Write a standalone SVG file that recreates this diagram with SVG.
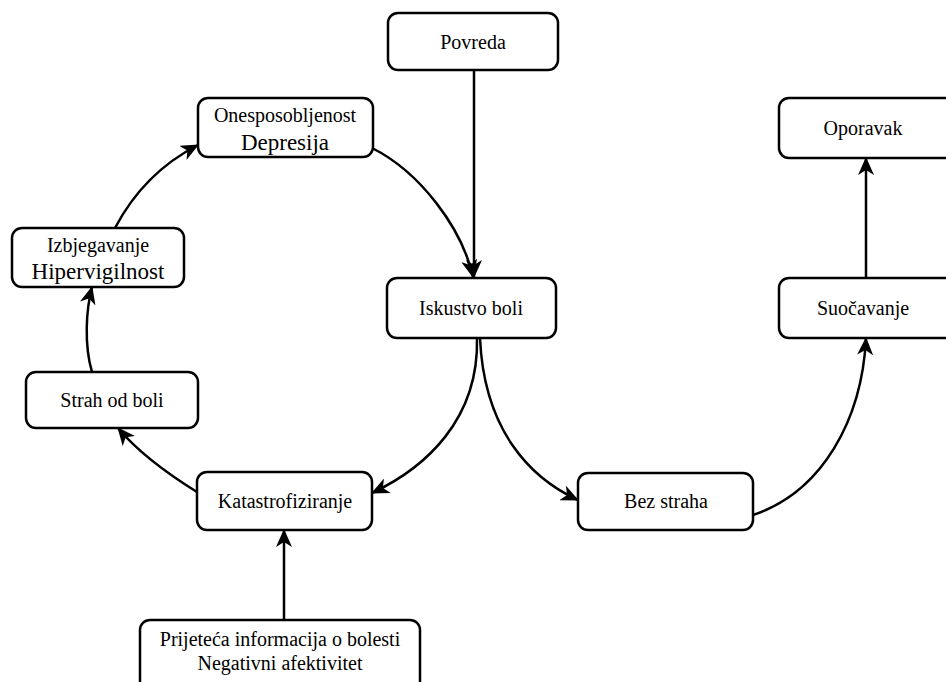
<svg xmlns="http://www.w3.org/2000/svg" width="946" height="682" viewBox="0 0 946 682">
<defs>
<style>
.box{fill:#fff;stroke:#000;stroke-width:2.5}
.t{font-family:"Liberation Serif","Times New Roman",serif;font-size:20px;fill:#000;text-anchor:middle}
.b{font-size:23px}
.c{fill:none;stroke:#000;stroke-width:2.5}
</style>
<marker id="ah" markerUnits="userSpaceOnUse" markerWidth="18" markerHeight="16" refX="17" refY="8" orient="auto" viewBox="0 0 18 16">
<path d="M0,0 L18,8 L0,16 L5,8 z" fill="#000"/>
</marker>
</defs>
<rect width="946" height="682" fill="#fff"/>
<g id="connectors">
<path class="c" d="M474,70 L474,277" marker-end="url(#ah)"/>
<path class="c" d="M372,148 C420,172 462,228 473,277" marker-end="url(#ah)"/>
<path class="c" d="M477,338 C479,420 425,468 372,493" marker-end="url(#ah)"/>
<path class="c" d="M480,338 C484,430 530,478 578,500" marker-end="url(#ah)"/>
<path class="c" d="M753,515 C822,492 862,420 866,338" marker-end="url(#ah)"/>
<path class="c" d="M866,278 L866,158" marker-end="url(#ah)"/>
<path class="c" d="M284,620 L284,530" marker-end="url(#ah)"/>
<path class="c" d="M197,492 C168,474 138,452 118,428" marker-end="url(#ah)"/>
<path class="c" d="M92,372 C84,345 86,310 92,287" marker-end="url(#ah)"/>
<path class="c" d="M115,228 C135,190 165,162 198,145" marker-end="url(#ah)"/>
</g>
<g id="povreda"><rect class="box" x="388" y="13" width="170" height="57" rx="10"/><text class="t" x="473" y="49">Povreda</text></g>
<g id="onesposobljenost"><rect class="box" x="198" y="98" width="175" height="59" rx="10"/><text class="t" x="285" y="122">Onesposobljenost</text><text class="t b" x="285" y="150">Depresija</text></g>
<g id="izbjegavanje"><rect class="box" x="12" y="228" width="172" height="59" rx="10"/><text class="t" x="98" y="252">Izbjegavanje</text><text class="t b" x="98" y="279">Hipervigilnost</text></g>
<g id="iskustvo"><rect class="box" x="387" y="278" width="169" height="60" rx="10"/><text class="t" x="471" y="315">Iskustvo boli</text></g>
<g id="oporavak"><rect class="box" x="779" y="98" width="180" height="60" rx="10"/><text class="t" x="863" y="135">Oporavak</text></g>
<g id="suocavanje"><rect class="box" x="779" y="278" width="180" height="60" rx="10"/><text class="t" x="863" y="315">Suočavanje</text></g>
<g id="strah"><rect class="box" x="26" y="372" width="172" height="56" rx="10"/><text class="t" x="112" y="407">Strah od boli</text></g>
<g id="katastrofiziranje"><rect class="box" x="197" y="472" width="175" height="58" rx="10"/><text class="t" x="285" y="508">Katastrofiziranje</text></g>
<g id="bezstraha"><rect class="box" x="578" y="473" width="175" height="57" rx="10"/><text class="t" x="666" y="508">Bez straha</text></g>
<g id="prijeteca"><rect class="box" x="140" y="620" width="280" height="80" rx="10"/><text class="t" x="280" y="646">Prijeteća informacija o bolesti</text><text class="t" x="280" y="670">Negativni afektivitet</text></g>
</svg>
